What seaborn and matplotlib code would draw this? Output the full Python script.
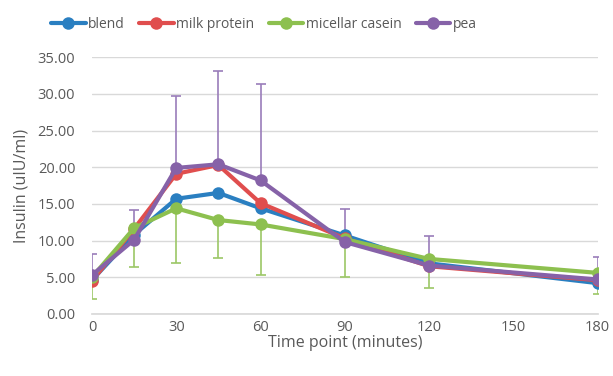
import matplotlib
matplotlib.use("Agg")
import matplotlib.pyplot as plt
import seaborn as sns
import pandas as pd
import numpy as np

time = [0, 15, 30, 45, 60, 90, 120, 180]
blend = [4.6, 10.8, 15.7, 16.5, 14.4, 10.7, 6.9, 4.2]
milk_protein = [4.5, 11.6, 19.1, 20.3, 15.1, 10.3, 6.5, 4.6]
micellar_casein = [5.0, 11.7, 14.4, 12.8, 12.2, 10.2, 7.5, 5.6]
pea = [5.3, 10.1, 19.9, 20.4, 18.2, 9.8, 6.6, 4.7]
pea_upper = [8.2, 14.2, 29.7, 33.1, 31.3, 14.3, 10.6, 7.8]
casein_lower = [2.0, 6.4, 7.0, 7.6, 5.3, 5.0, 3.5, 2.7]

series = {"blend": blend, "milk protein": milk_protein,
          "micellar casein": micellar_casein, "pea": pea}
colors = {"blend": "#2A7FC1", "milk protein": "#E04E4E",
          "micellar casein": "#8DC04F", "pea": "#8662A8"}

df = pd.concat([pd.DataFrame({"time": time, "insulin": v, "group": k})
                for k, v in series.items()], ignore_index=True)

sns.set_theme(style="white")
plt.rcParams["font.family"] = ["Open Sans", "DejaVu Sans"]
txt = "#595959"

fig = plt.figure(figsize=(6.13, 3.76), dpi=100)
ax = fig.add_axes([0.150, 0.165, 0.825, 0.683])

# error bars (drawn behind lines)
pea_err = np.array(pea_upper) - np.array(pea)
cas_err = np.array(micellar_casein) - np.array(casein_lower)
ax.errorbar(time, pea, yerr=[np.zeros(len(time)), pea_err], fmt="none",
            ecolor="#9A7DBA", elinewidth=1.2, capsize=3.5, capthick=1.2, zorder=2)
ax.errorbar(time, micellar_casein, yerr=[cas_err, np.zeros(len(time))], fmt="none",
            ecolor="#9CC766", elinewidth=1.2, capsize=3.5, capthick=1.2, zorder=2)

sns.lineplot(data=df, x="time", y="insulin", hue="group", palette=colors,
             marker="o", markersize=9, markeredgewidth=0, linewidth=3,
             ax=ax, zorder=3, legend=True)

ax.set_xlim(0, 180)
ax.set_ylim(0, 35)
ax.set_xticks([0, 30, 60, 90, 120, 150, 180])
ax.set_yticks(np.arange(0, 36, 5))
ax.set_yticklabels([f"{v:.2f}" for v in np.arange(0, 36, 5)])
ax.yaxis.grid(True, color="#D9D9D9", linewidth=1)
ax.set_axisbelow(True)
for s in ["top", "right", "left"]:
    ax.spines[s].set_visible(False)
ax.spines["bottom"].set_color("#D9D9D9")
ax.tick_params(axis="x", colors=txt, labelsize=10.5, length=0, pad=4)
ax.tick_params(axis="y", colors=txt, labelsize=10.5, length=0, pad=12)
ax.set_xlabel("Time point (minutes)", color=txt, fontsize=11.5, labelpad=0)
ax.set_ylabel("Insulin (uIU/ml)", color=txt, fontsize=11.5, labelpad=6)

h, l = ax.get_legend_handles_labels()
leg = ax.legend(h, l, loc="upper center", ncol=4,
                frameon=False, fontsize=10, handlelength=2.5, columnspacing=1.0,
                handletextpad=0.2)
leg.set_bbox_to_anchor((264 / 613, 1 - 4 / 376), transform=fig.transFigure)
for t in leg.get_texts():
    t.set_color(txt)

fig.savefig("out.png", dpi=100)
